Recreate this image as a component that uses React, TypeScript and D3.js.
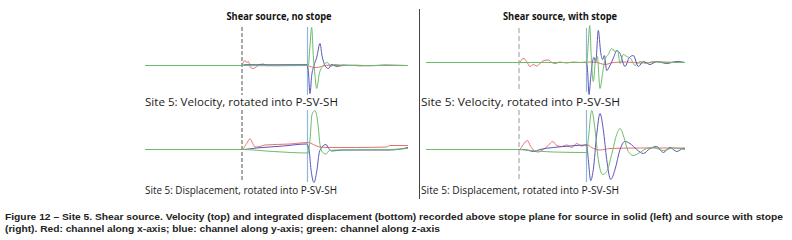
import * as d3 from "d3";

type Pt = [number, number];

// time in samples, amplitude in arbitrary units (positive = up)
const tlRed: Pt[] = [[0, 0], [96.7, 0], [98.3, 3], [100, 5], [101.7, 3], [103.3, 4], [105.7, -2], [108.3, -3], [111.7, -1], [115, 1], [118.3, 1.5], [121.7, 0], [140, 0.3], [161.7, 0], [166.7, -1.5], [171.7, -2], [178.3, -0.5], [185, 0.5], [195, -0.3], [210, 0.4], [225, -0.3], [240, 0.3], [263, 0]];
const tlBlue: Pt[] = [[0, 0], [96.7, 0], [100, 0.8], [130, 0.7], [162, 0.8], [163.3, -5], [165, -28], [166.7, -10], [169, 0], [171.7, 8], [175, 22], [177, 10], [180, 0], [183.3, -3], [186.7, 1], [191.7, -1], [198.3, 0.5], [215, -0.3], [240, 0.3], [263, 0]];
const tlGreen: Pt[] = [[0, 0], [96.7, 0], [130, -0.3], [163.3, 0], [165, 20], [166.7, 38], [168.3, 10], [170, -10], [171.7, -23], [174.3, -8], [178.3, 0], [182.3, 3], [185.7, -1], [190, 1], [200, 0], [263, 0]];

const blRed: Pt[] = [[0, 0], [96.7, 0], [101.7, 6], [105, 10.7], [107.7, 6], [110, 2.5], [115, 3], [120, 4.5], [145, 5.5], [163.3, 7], [168.3, 5], [175, 2.5], [185, 2], [211.7, 2], [241.7, 2.5], [245, 4], [263, 4]];
const blBlue: Pt[] = [[0, 0], [96.7, 0], [111.7, 1.5], [138.3, 3.5], [161.7, 5.5], [164, 0], [166, -20], [169, -33], [171.7, -22], [174.3, -3], [176.7, 2], [181, 5], [183.7, 1], [186.7, -1.5], [198.3, -0.5], [245, -0.5], [263, 2]];
const blGreen: Pt[] = [[0, 0], [96.7, 0], [128.3, -2], [163.3, -3.5], [165, 10], [167, 35], [170, 39], [173, 25], [175, 5], [177.7, -3], [181, -4.5], [184.3, -1], [191.7, -0.5], [245, 0], [263, 1]];

const trRed: Pt[] = [[0, 0], [93.3, 0], [95.7, 3], [98, 4], [100.7, 1], [104, -4], [107.3, -2], [110.7, -3.5], [114, -1], [118, 2], [122.3, 2.5], [125.7, 0], [129, -1], [134, 0.5], [140.7, -0.5], [147.3, 0.5], [154, 0], [160.7, 0.5], [170.7, 0], [179, -2], [187.3, 0], [200, 0.5], [215, -0.5], [230, 0.5], [259, 0]];
const trBlue: Pt[] = [[0, 0], [160.7, 0], [161.7, -10], [163, -32], [164.7, -15], [166.7, 2], [168, 5], [169.7, 0], [172.3, 32], [174.7, 10], [176.7, 3], [178.3, 7], [180.7, -8], [184, -3], [188, 6], [190.7, 12], [194, 9], [199, -4], [203.3, 5], [207.3, 7], [212.3, -4], [217.3, 1], [224, -2], [230.7, 1], [240.7, -1], [250.7, 1], [259, 0]];
const trGreen: Pt[] = [[0, 0], [160.7, 0], [162.3, 20], [163.7, 37], [165.3, 5], [167.3, -19], [169.7, 4], [171.3, 6], [174, -26], [176.7, -10], [179.3, 4], [182.3, 8], [185.7, 14], [189, 11], [191.7, 12], [194, -1], [197.3, 8], [200.7, 6], [204.7, 4], [209, -3], [214, 1], [220.7, -1], [227.3, 1], [240.7, 0], [259, 0]];

const brRed: Pt[] = [[0, 0], [93.3, 0], [97.3, 5], [101.3, 9], [104.7, 3], [108, -1], [112.3, -2.5], [117.3, 0], [122.3, 4], [126.7, 8], [130.7, 4], [135.7, 3], [140.7, 4.5], [145.7, 2], [150.7, 6], [155.7, 3.5], [160.7, 5], [165.7, 2], [174, -0.5], [184, 1], [210.7, 1.5], [259, 1.5]];
const brBlue: Pt[] = [[0, 0], [93.3, 0], [100.7, -0.5], [107.3, -2], [114, 0], [127.3, 2], [144, 3.5], [160.7, 4.5], [162.3, -10], [164.7, -31], [167.3, -20], [170.7, 15], [174, 36], [177.3, 20], [180.7, -10], [184.7, -30], [189, -20], [194, 0], [199, 8], [204, 6], [210.7, 0], [217.3, -4], [224, 1], [230.7, 3], [237.3, -3], [244, 2], [250.7, -2], [257.3, 1], [259, 0.5]];
const brGreen: Pt[] = [[0, 0], [93.3, 0], [110.7, -1.5], [127.3, -2.5], [160.7, -3], [162.3, 10], [165.7, 39], [169, 20], [172.3, -10], [176.7, -25], [180.7, -22], [185.7, -5], [190.7, 15], [194, 21], [198, 12], [202.3, -2], [207.3, -6], [214, -3], [220.7, 1], [227.3, 2], [237.3, -1], [247.3, 1.5], [259, 0]];

const panelTitles = ["Shear source, no stope", "Shear source, with stope"];
const panelCaptions = ["Site 5: Velocity, rotated into P-SV-SH", "Site 5: Displacement, rotated into P-SV-SH"];
const figCaption = [
  "Figure 12 \u2013 Site 5. Shear source. Velocity (top) and integrated displacement (bottom) recorded above stope plane for source in solid (left) and source with stope",
  "(right). Red: channel along x-axis; blue: channel along y-axis; green: channel along z-axis",
];

const RED = "#e8706a";
const BLUE = "#5a56b8";
const GREEN = "#6cbb6a";

type Panel = {
  x0: number; x1: number; tMax: number; base: number;
  vTop: number; vBot: number;
  red: Pt[]; blue: Pt[]; green: Pt[];
  pick: number; arrival: number; dashColor: string; dash: string;
};

const panels: Panel[] = [
  { x0: 145, x1: 408, tMax: 263, base: 65.5, vTop: 27, vBot: 95, red: tlRed, blue: tlBlue, green: tlGreen, pick: 97, arrival: 162.5, dashColor: "#555", dash: "4,2" },
  { x0: 145, x1: 408, tMax: 263, base: 149.5, vTop: 110, vBot: 182, red: blRed, blue: blBlue, green: blGreen, pick: 97, arrival: 162.5, dashColor: "#555", dash: "4,2" },
  { x0: 426, x1: 685, tMax: 259, base: 62.5, vTop: 28, vBot: 92, red: trRed, blue: trBlue, green: trGreen, pick: 93, arrival: 160.5, dashColor: "#999", dash: "5,3" },
  { x0: 426, x1: 685, tMax: 259, base: 149.5, vTop: 110, vBot: 182, red: brRed, blue: brBlue, green: brGreen, pick: 93, arrival: 160.5, dashColor: "#999", dash: "5,3" },
];

function Traces({ p }: { p: Panel }) {
  const x = d3.scaleLinear().domain([0, p.tMax]).range([p.x0, p.x1]);
  const y = d3.scaleLinear().domain([-40, 40]).range([p.base + 40, p.base - 40]);
  const line = d3.line<Pt>().x((d) => x(d[0])).y((d) => y(d[1])).curve(d3.curveMonotoneX);
  return (
    <g>
      <line x1={x(p.pick)} x2={x(p.pick)} y1={p.vTop} y2={p.vBot} stroke={p.dashColor} strokeWidth={1} strokeDasharray={p.dash} />
      <line x1={x(p.arrival)} x2={x(p.arrival)} y1={p.vTop} y2={p.vBot} stroke="#8fb8e0" strokeWidth={1.2} />
      <path d={line(p.red) ?? ""} fill="none" stroke={RED} strokeWidth={1} />
      <path d={line(p.blue) ?? ""} fill="none" stroke={BLUE} strokeWidth={1} />
      <path d={line(p.green) ?? ""} fill="none" stroke={GREEN} strokeWidth={1} />
    </g>
  );
}

export default function App() {
  const font = "Open Sans, Liberation Sans, sans-serif";
  return (
    <svg width={792} height={240} style={{ position: "absolute", left: 0, top: 0, background: "#fff" }}>
      <rect width={792} height={240} fill="#fff" />
      {panels.map((p, i) => <Traces key={i} p={p} />)}
      <line x1={419.5} x2={419.5} y1={9} y2={199} stroke="#444" strokeWidth={1} />
      <text x={279} y={20} textAnchor="middle" fontFamily={font} fontWeight="bold" fontSize={10.5} textLength={105} lengthAdjust="spacingAndGlyphs" fill="#111">{panelTitles[0]}</text>
      <text x={560} y={20} textAnchor="middle" fontFamily={font} fontWeight="bold" fontSize={10.5} textLength={114} lengthAdjust="spacingAndGlyphs" fill="#111">{panelTitles[1]}</text>
      <text x={145} y={106} fontFamily={font} fontSize={10} textLength={193} lengthAdjust="spacingAndGlyphs" fill="#1a1a1a">{panelCaptions[0]}</text>
      <text x={145} y={194} fontFamily={font} fontSize={10} textLength={192} lengthAdjust="spacingAndGlyphs" fill="#1a1a1a">{panelCaptions[1]}</text>
      <text x={421} y={106} fontFamily={font} fontSize={10} textLength={199} lengthAdjust="spacingAndGlyphs" fill="#1a1a1a">{panelCaptions[0]}</text>
      <text x={421} y={194} fontFamily={font} fontSize={10} textLength={198} lengthAdjust="spacingAndGlyphs" fill="#1a1a1a">{panelCaptions[1]}</text>
      <text x={5} y={220} fontFamily="Liberation Sans, Arial, sans-serif" fontWeight="bold" fontSize={9.5} textLength={778} lengthAdjust="spacingAndGlyphs" fill="#222">{figCaption[0]}</text>
      <text x={5} y={232} fontFamily="Liberation Sans, Arial, sans-serif" fontWeight="bold" fontSize={9.5} textLength={435} lengthAdjust="spacingAndGlyphs" fill="#222">{figCaption[1]}</text>
    </svg>
  );
}
